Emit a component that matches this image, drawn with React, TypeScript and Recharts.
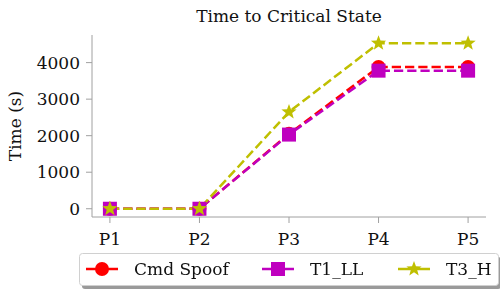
import React from 'react';
import { LineChart, Line, XAxis, YAxis, Label } from 'recharts';

const categories = ['P1', 'P2', 'P3', 'P4', 'P5'];
const cmdSpoof = [0, 0, 2050, 3880, 3880];
const t1LL = [0, 0, 2030, 3780, 3780];
const t3H = [0, 0, 2650, 4530, 4530];
const yTicks = [0, 1000, 2000, 3000, 4000];

const data = categories.map((name, i) => ({
  x: i,
  name,
  cmdSpoof: cmdSpoof[i],
  t1LL: t1LL[i],
  t3H: t3H[i],
}));

const FONT = "'DejaVu Serif'";
const FS = 17;
const AXIS_GRAY = '#a0a0a0';
const RED = '#ff0000';
const MAGENTA = '#bf00bf';
const OLIVE = '#bfbf00';

const starPoints = (cx: number, cy: number, r: number) => {
  const pts: string[] = [];
  for (let i = 0; i < 10; i++) {
    const rad = i % 2 === 0 ? r : r * 0.42;
    const a = -Math.PI / 2 + (i * Math.PI) / 5;
    pts.push(`${cx + rad * Math.cos(a)},${cy + rad * Math.sin(a)}`);
  }
  return pts.join(' ');
};

const CircleDot = (props: any) => (
  <circle key={`c-${props.index}`} cx={props.cx} cy={props.cy} r={7} fill={RED} />
);
const SquareDot = (props: any) => (
  <rect key={`s-${props.index}`} x={props.cx - 7} y={props.cy - 7} width={14} height={14} fill={MAGENTA} />
);
const StarDot = (props: any) => (
  <polygon key={`t-${props.index}`} points={starPoints(props.cx, props.cy, 8)} fill={OLIVE} />
);

const legendItems = [
  { label: 'Cmd Spoof', color: RED, marker: 'circle', x: 7 },
  { label: 'T1_LL', color: MAGENTA, marker: 'square', x: 183 },
  { label: 'T3_H', color: OLIVE, marker: 'star', x: 319 },
];

const LegendBox = () => (
  <svg width={424} height={37} style={{ position: 'absolute', left: 79, top: 253 }}>
    <rect x={3} y={4} width={419} height={32} rx={3} fill="#9a9a9a" />
    <rect x={0.5} y={0.5} width={419} height={32} rx={3} fill="#fff" stroke="#d0d0d0" />
    {legendItems.map((it) => {
      const cx = it.x + 16;
      const cy = 16;
      return (
        <g key={it.label}>
          <line x1={it.x} x2={it.x + 32} y1={cy} y2={cy} stroke={it.color} strokeWidth={2.5} />
          {it.marker === 'circle' && <circle cx={cx} cy={cy} r={7} fill={it.color} />}
          {it.marker === 'square' && <rect x={cx - 7} y={cy - 7} width={14} height={14} fill={it.color} />}
          {it.marker === 'star' && <polygon points={starPoints(cx, cy, 8)} fill={it.color} />}
          <text x={it.x + 48} y={cy} dy="0.35em" fontFamily="DejaVu Serif" fontSize={FS} fill="#111">
            {it.label}
          </text>
        </g>
      );
    })}
  </svg>
);

export default function App() {
  return (
    <div
      style={{
        position: 'fixed',
        left: 0,
        top: 0,
        width: 500,
        height: 291,
        background: '#fff',
        fontFamily: FONT,
        fontSize: FS,
      }}
    >
      <div
        style={{
          position: 'absolute',
          left: 92,
          width: 394,
          top: 6,
          textAlign: 'center',
          color: '#111',
        }}
      >
        Time to Critical State
      </div>
      <LineChart
        width={500}
        height={291}
        data={data}
        margin={{ top: 35, right: 14, bottom: 34, left: 0 }}
      >
        <XAxis
          type="number"
          dataKey="x"
          domain={[-0.2, 4.2]}
          ticks={[0, 1, 2, 3, 4]}
          tickFormatter={(v: number) => categories[v]}
          allowDataOverflow
          stroke={AXIS_GRAY}
          tickSize={6}
          tickMargin={10}
          tick={{ fill: '#111', fontFamily: 'DejaVu Serif', fontSize: FS }}
          height={40}
        />
        <YAxis
          domain={[-226, 4756]}
          ticks={yTicks}
          allowDataOverflow
          width={92}
          stroke={AXIS_GRAY}
          tickSize={6}
          tickMargin={6}
          tick={{ fill: '#111', fontFamily: 'DejaVu Serif', fontSize: FS }}
        >
          <Label
            value="Time (s)"
            angle={-90}
            position="insideLeft"
            offset={15}
            fontFamily="DejaVu Serif"
            fontSize={FS}
            fill="#111"
            style={{ textAnchor: 'middle' }}
          />
        </YAxis>
        <Line
          dataKey="cmdSpoof"
          stroke={RED}
          strokeWidth={2.5}
          strokeDasharray="9.25 4"
          dot={CircleDot}
          activeDot={false}
          isAnimationActive={false}
        />
        <Line
          dataKey="t1LL"
          stroke={MAGENTA}
          strokeWidth={2.5}
          strokeDasharray="9.25 4"
          dot={SquareDot}
          activeDot={false}
          isAnimationActive={false}
        />
        <Line
          dataKey="t3H"
          stroke={OLIVE}
          strokeWidth={2.5}
          strokeDasharray="9.25 4"
          dot={StarDot}
          activeDot={false}
          isAnimationActive={false}
        />
      </LineChart>
      <LegendBox />
    </div>
  );
}
